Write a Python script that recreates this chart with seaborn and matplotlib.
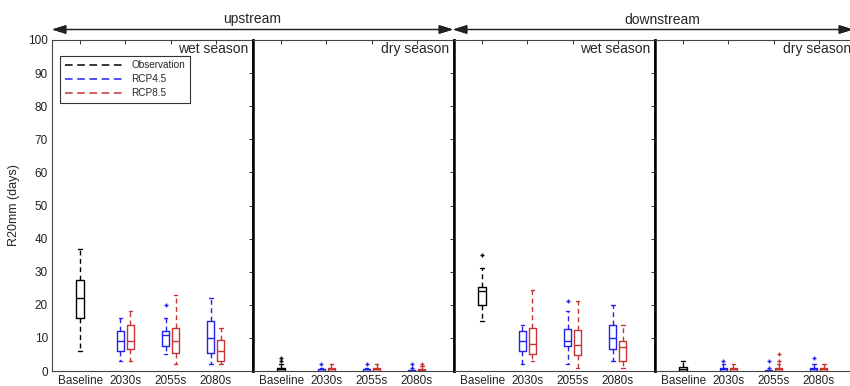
import pandas as pd
import seaborn as sns
import matplotlib.pyplot as plt
from matplotlib.lines import Line2D

# categorias
periodos = ['Baseline', '2030s', '2055s', '2080s']
futuros = ['2030s', '2055s', '2080s']
cenarios = ['RCP4.5', 'RCP8.5']
paineis = ['up_wet', 'up_dry', 'down_wet', 'down_dry']
titulos_estacao = ['wet season', 'dry season', 'wet season', 'dry season']

# amostras (dias R20mm), uma lista por caixa
# upstream - wet season
up_wet_obs = [6, 6, 16, 19, 22, 25, 27.5, 37, 37]
up_wet_rcp45 = [[3, 3, 6, 7.5, 9, 10.5, 12, 16, 16],
                [5, 5, 7.7, 9, 11, 11.5, 12.1, 16, 20],
                [2, 2, 5.4, 8, 10, 12, 15, 22, 22]]
up_wet_rcp85 = [[3, 3, 6.7, 8, 9, 11, 13.8, 18, 18],
                [2, 2, 5.5, 7, 9, 11, 13, 23, 23],
                [2, 2, 3, 4.5, 6, 7.5, 9.3, 13, 13]]

# upstream - dry season
up_dry_obs = [0, 0, 0, 0, 0, 0, 0.5, 1, 1, 1, 2, 3, 4]
up_dry_rcp45 = [[0, 0, 0, 0, 0, 0.2, 0.5, 1, 2],
                [0, 0, 0, 0, 0, 0.2, 0.5, 1, 2],
                [0, 0, 0, 0, 0, 0, 0.3, 1, 2]]
up_dry_rcp85 = [[0, 0, 0, 0.3, 0.5, 0.8, 1, 2, 2],
                [0, 0, 0, 0.3, 0.5, 0.8, 1, 2, 2],
                [0, 0, 0, 0, 0.2, 0.4, 0.6, 1.5, 2]]

# downstream - wet season
down_wet_obs = [15, 15, 19.8, 22, 24.2, 25, 25.4, 31, 35]
down_wet_rcp45 = [[2, 2, 5.9, 7.5, 9.1, 10.5, 12, 14, 14],
                  [2, 2, 7.7, 8.5, 9.1, 11, 12.6, 18, 21],
                  [3, 3, 6.7, 8.5, 10, 12, 14, 20, 20]]
down_wet_rcp85 = [[3, 3, 5, 6.5, 8.1, 10.5, 13, 24.5, 24.5],
                  [1, 1, 4.7, 6.5, 8, 10, 12.5, 21, 21],
                  [1, 1, 3, 5, 7.2, 8, 9.1, 14, 14]]

# downstream - dry season
down_dry_obs = [0, 0, 0, 0.3, 0.6, 0.9, 1.2, 3, 3]
down_dry_rcp45 = [[0, 0, 0, 0.3, 0.5, 0.8, 1, 2, 3],
                  [0, 0, 0, 0, 0, 0.1, 0.2, 1, 3],
                  [0, 0, 0, 0.3, 0.5, 0.8, 1, 2, 4]]
down_dry_rcp85 = [[0, 0, 0, 0.3, 0.5, 0.8, 1, 2, 2],
                  [0, 0, 0, 0, 0.2, 0.4, 0.5, 0.7, 0.9, 1, 2, 3, 5],
                  [0, 0, 0, 0.3, 0.5, 0.8, 1, 2, 2]]

obs = {'up_wet': up_wet_obs, 'up_dry': up_dry_obs,
       'down_wet': down_wet_obs, 'down_dry': down_dry_obs}
rcp45 = {'up_wet': up_wet_rcp45, 'up_dry': up_dry_rcp45,
         'down_wet': down_wet_rcp45, 'down_dry': down_dry_rcp45}
rcp85 = {'up_wet': up_wet_rcp85, 'up_dry': up_dry_rcp85,
         'down_wet': down_wet_rcp85, 'down_dry': down_dry_rcp85}

# monta tabela longa
linhas = []
for p in paineis:
    for v in obs[p]:
        linhas.append((p, 'Baseline', 'Observation', v))
    for cen, fonte in zip(cenarios, [rcp45, rcp85]):
        for per, amostra in zip(futuros, fonte[p]):
            for v in amostra:
                linhas.append((p, per, cen, v))
df = pd.DataFrame(linhas, columns=['painel', 'periodo', 'cenario', 'valor'])

azul = '#2222F0'
vermelho = '#C83434'

sns.set_theme(style='white')
plt.rcParams['font.family'] = ['Liberation Sans', 'DejaVu Sans']

fig, axes = plt.subplots(1, 4, sharey=True, figsize=(8.5, 3.86), dpi=100)
fig.subplots_adjust(left=52/850, right=856/850, bottom=15/386, top=346/386, wspace=0)

estilo = dict(
    fill=False, linewidth=1.0, whis=1.5,
    whiskerprops={'linestyle': (0, (3.5, 2.5))},
    flierprops={'marker': '+', 'markersize': 3, 'markeredgewidth': 1},
)

for i, (ax, p) in enumerate(zip(axes, paineis)):
    d = df[df['painel'] == p]
    sns.boxplot(data=d[d['cenario'] == 'Observation'], x='periodo', y='valor',
                order=periodos, color='black', width=0.16, ax=ax, **estilo)
    sns.boxplot(data=d[d['cenario'] != 'Observation'], x='periodo', y='valor',
                order=periodos, hue='cenario', hue_order=cenarios,
                palette=[azul, vermelho], width=0.44, gap=0.3, dodge=True,
                legend=False, ax=ax, **estilo)
    ax.set_xlim(-0.62, 3.82)
    ax.set_ylim(0, 100)
    ax.set_yticks(range(0, 101, 10))
    ax.set_xlabel('')
    ax.set_ylabel('')
    ax.tick_params(direction='in', top=True, right=True, length=3, width=0.7,
                   labelsize=8.5, pad=3, colors='#333333', labelcolor='#222222')
    for s in ax.spines.values():
        s.set_color('#444444')
        s.set_linewidth(0.8)
    if i > 0:
        ax.spines['left'].set_color('black')
        ax.spines['left'].set_linewidth(1.8)
    if i < 3:
        ax.spines['right'].set_color('black')
        ax.spines['right'].set_linewidth(1.8)
    ax.text(0.975, 0.993, titulos_estacao[i], transform=ax.transAxes,
            ha='right', va='top', fontsize=10)

axes[0].set_ylabel('R20mm (days)', fontsize=9, labelpad=6)

# legenda
handles = [Line2D([0], [0], color='black', lw=1.1, dashes=(5, 3)),
           Line2D([0], [0], color=azul, lw=1.1, dashes=(5, 3)),
           Line2D([0], [0], color=vermelho, lw=1.1, dashes=(5, 3))]
leg = axes[0].legend(handles, ['Observation', 'RCP4.5', 'RCP8.5'],
                     loc='upper left', bbox_to_anchor=(0.04, 0.952),
                     borderaxespad=0, fontsize=7.2, handlelength=5.8,
                     labelspacing=0.4, fancybox=False, framealpha=1,
                     edgecolor='#333333', borderpad=0.45, handletextpad=0.9)
leg.get_frame().set_linewidth(0.8)

# setas upstream / downstream
y_seta = 1 - 29.5/386
for x0, x1, xt, nome in [(52/850, 453/850, 252/850, 'upstream'),
                         (453/850, 853/850, 662/850, 'downstream')]:
    fig.add_artist(plt.annotate('', xy=(x1, y_seta), xytext=(x0, y_seta),
                                xycoords='figure fraction',
                                arrowprops=dict(arrowstyle='<|-|>,head_length=0.7,head_width=0.22',
                                                color='#222222', lw=0.9, shrinkA=0, shrinkB=0)))
    fig.text(xt, 1 - 19.5/386, nome, ha='center', va='center', fontsize=10)

plt.savefig('out.png', dpi=100)
